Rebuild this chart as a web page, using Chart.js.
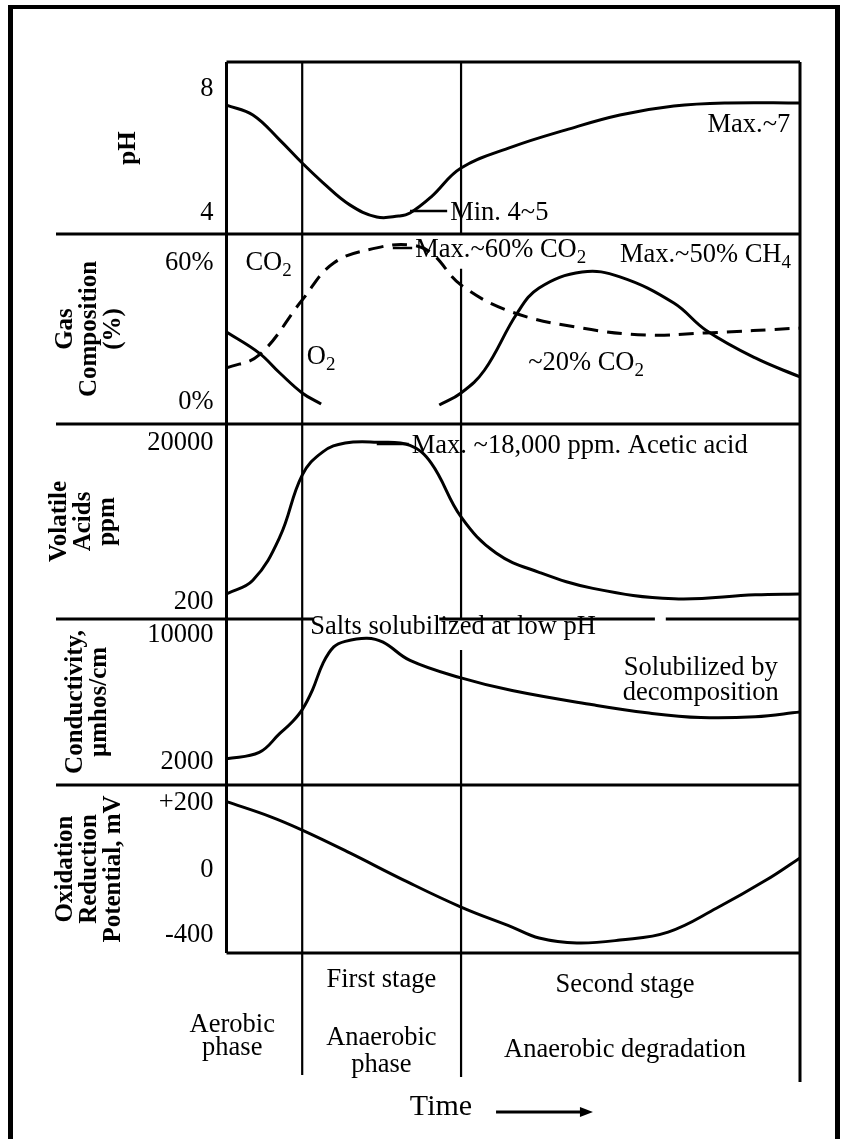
<!DOCTYPE html>
<html>
<head>
<meta charset="utf-8">
<script src="https://cdn.jsdelivr.net/npm/chart.js"></script>
<style>
  html, body { margin: 0; padding: 0; background: #fff; }
  canvas { display: block; }
</style>
</head>
<body>
<canvas id="chart" width="845" height="1139"></canvas>
<script>
// time runs 0..100 (no units on the original), phases change at these times
const phaseBounds = [13.2, 40.9];

const phTime = [0, 4.6, 9.3, 13.2, 16.8, 21.5, 26.2, 30.0, 32.0, 35.7, 40.9, 49.8, 59.2, 68.6, 78.0, 87.4, 100];
const phValue = [7.48, 7.16, 6.35, 5.61, 4.98, 4.26, 3.87, 3.9, 4.0, 4.52, 5.45, 6.13, 6.68, 7.16, 7.45, 7.55, 7.55];

const co2Time = [0, 5.7, 13.2, 18.7, 26.2, 32.0, 35.7, 40.9, 49.8, 62.0, 73.3, 83.6, 100];
const co2Value = [14.7, 20.3, 44, 60, 66.5, 67.8, 64.3, 50.5, 38.8, 31.9, 28.9, 29.8, 31.9];

const o2Time = [0, 5.7, 9.3, 13.2, 16.5];
const o2Value = [30.2, 21.1, 12.5, 3.9, -0.9];

const ch4Time = [37.1, 40.9, 45.0, 50.7, 54.5, 62.0, 68.6, 78.0, 83.6, 92.2, 100];
const ch4Value = [-1.3, 3.9, 13.8, 38.4, 49.2, 56.1, 54.0, 42.7, 31.0, 19.0, 10.8];

const vaTime = [0, 4.6, 9.3, 13.2, 16.8, 20.7, 26.2, 32.0, 35.7, 40.9, 47.0, 54.5, 63.9, 78.0, 92.2, 100];
const vaValue = [1200, 2900, 8300, 16000, 18900, 20000, 20100, 19700, 17500, 10800, 6300, 3900, 1900, 600, 1100, 1200];

const condTime = [0, 5.7, 9.3, 11.4, 13.2, 15.0, 16.8, 18.7, 20.7, 24.5, 27.3, 32.0, 40.9, 49.8, 63.9, 73.3, 82.7, 92.2, 100];
const condValue = [2200, 2600, 3800, 4500, 5300, 6550, 8200, 9250, 9600, 9800, 9550, 8400, 7300, 6500, 5600, 5100, 4800, 4850, 5150];

const orpTime = [0, 7.5, 13.2, 21.5, 30.9, 40.9, 49.8, 54.5, 61.1, 68.6, 77.0, 85.5, 94.1, 100];
const orpValue = [204, 160, 119, 51, -62, -228, -351, -418, -449, -431, -382, -234, -62, 36];

// tick labels of each panel
const phTicks = [8, 4];
const gasTicks = [60, 0];
const vaTicks = [20000, 200];
const condTicks = [10000, 2000];
const orpTicks = [200, 0, -400];

const stageNames = ['', 'First stage', 'Second stage'];
const phaseNames = [['Aerobic', 'phase'], ['Anaerobic', 'phase'], ['Anaerobic degradation']];

const notes = [
  {axis: 'yPH', x: 98.3, y: 6.84, text: 'Max.~7', align: 'right'},
  {axis: 'yPH', x: 39.0, y: 4.0, text: 'Min. 4~5', lead: 32.0},
  {axis: 'yGas', x: 3.3, y: 60, text: 'CO_2'},
  {axis: 'yGas', x: 14.0, y: 19.4, text: 'O_2'},
  {axis: 'yGas', x: 32.9, y: 65.6, text: 'Max.~60% CO_2', lead: 29.0},
  {axis: 'yGas', x: 68.6, y: 63.4, text: 'Max.~50% CH_4'},
  {axis: 'yGas', x: 52.6, y: 16.8, text: '~20% CO_2'},
  {axis: 'yVA', x: 32.3, y: 19627, text: 'Max. ~18,000 ppm. Acetic acid', lead: 26.2},
  {axis: 'yCond', x: 14.6, y: 10504, text: 'Salts solubilized at low pH'},
  {axis: 'yCond', x: 82.7, y: 7921, text: 'Solubilized by', align: 'center'},
  {axis: 'yCond', x: 82.7, y: 6346, text: 'decomposition', align: 'center'}
];

// the ORP axis is not linear on the original: 0 sits in the middle of +200 / -400
const orpKnots = [[-400, 0.107], [0, 0.494], [200, 0.893]];
function orpDec(v) {
  const i = v < orpKnots[1][0] ? 0 : 1;
  const a = orpKnots[i], b = orpKnots[i + 1];
  return a[1] + (v - a[0]) * (b[1] - a[1]) / (b[0] - a[0]);
}
class OrpScale extends Chart.LinearScale {
  static id = 'orp';
  static defaults = {};
  getPixelForValue(v) { return this.getPixelForDecimal(orpDec(v)); }
  getValueForPixel(p) {
    const d = this.getDecimalForPixel(p);
    const i = d < orpKnots[1][1] ? 0 : 1;
    const a = orpKnots[i], b = orpKnots[i + 1];
    return a[0] + (d - a[1]) * (b[0] - a[0]) / (b[1] - a[1]);
  }
}
Chart.register(OrpScale);

const serif = 'Liberation Serif';
const textSize = 26.5;
const xy = (t, v) => t.map((x, i) => ({x: x, y: v[i]}));
const lineStyle = {borderColor: '#000', borderWidth: 3, pointRadius: 0, fill: false, tension: 0.4};

function panelAxis(o) {
  return {
    type: o.type || 'linear', position: 'left', stack: 'panels', stackWeight: o.h, weight: o.w,
    min: o.min, max: o.max, offset: false, bounds: 'data',
    grid: {display: false, drawTicks: false}, border: {display: false},
    ticks: {font: {family: serif, size: textSize}, color: '#000', padding: 13, autoSkip: false,
      callback: o.fmt || (v => String(v))},
    title: {display: true, text: o.title, color: '#000',
      font: {family: serif, size: 25, weight: 'bold', lineHeight: 0.97},
      padding: {top: o.pad, bottom: 0}},
    afterBuildTicks: s => { s.ticks = o.ticks.map(value => ({value: value})); },
    afterFit: s => { s.width = 206.5; }
  };
}

function seg(ctx, x1, y1, x2, y2, w) {
  ctx.lineWidth = w;
  ctx.beginPath();
  ctx.moveTo(x1, y1);
  ctx.lineTo(x2, y2);
  ctx.stroke();
}

function drawRich(ctx, text, x, y, align, size) {
  const segs = [];
  text.split(/(_\w)/).forEach(p => {
    if (!p) return;
    if (p[0] === '_' && p.length === 2) segs.push({s: p[1], sub: true});
    else segs.push({s: p, sub: false});
  });
  const main = size + 'px "' + serif + '"';
  const sub = Math.round(size * 0.72) + 'px "' + serif + '"';
  let w = 0;
  segs.forEach(s => { ctx.font = s.sub ? sub : main; s.w = ctx.measureText(s.s).width; w += s.w; });
  let cx = align === 'right' ? x - w : align === 'center' ? x - w / 2 : x;
  ctx.textAlign = 'left';
  ctx.textBaseline = 'middle';
  segs.forEach(s => {
    ctx.font = s.sub ? sub : main;
    ctx.fillText(s.s, cx, y + (s.sub ? size * 0.3 : 0));
    cx += s.w;
  });
}

// separators start left of the axis titles; a couple of breaks as in the scan
const sepLeft = 56;
const sepGaps = {yCond: [[15.1, 37.1], [74.7, 76.6]]};
const phaseExt = [122, 124];
const phaseGaps = [[], [['yGas', 72.5, 57.5], ['yCond', 11008, 9050]]];

const decor = {
  id: 'decor',
  beforeDatasetsDraw(chart) {
    const {ctx, chartArea: a, scales} = chart;
    const xs = scales.x;
    ctx.save();
    ctx.fillStyle = '#000';
    ctx.strokeStyle = '#000';
    // page frame
    ctx.fillRect(8, 5, 832, 4);
    ctx.fillRect(8, 5, 5, chart.height);
    ctx.fillRect(835, 5, 5, chart.height);
    // plot box
    seg(ctx, a.left, a.top, a.right, a.top, 3);
    seg(ctx, a.left, a.bottom, a.right, a.bottom, 3);
    seg(ctx, a.left, a.top, a.left, a.bottom, 3);
    seg(ctx, a.right, a.top, a.right, a.bottom + 129, 3);
    ['yGas', 'yVA', 'yCond', 'yORP'].forEach(id => {
      const y = scales[id].top;
      let from = sepLeft;
      (sepGaps[id] || []).forEach(g => {
        seg(ctx, from, y, xs.getPixelForValue(g[0]), y, 3);
        from = xs.getPixelForValue(g[1]);
      });
      seg(ctx, from, y, a.right, y, 3);
    });
    phaseBounds.forEach((t, i) => {
      const x = xs.getPixelForValue(t);
      let from = a.top;
      phaseGaps[i].forEach(g => {
        const s = scales[g[0]];
        seg(ctx, x, from, x, s.getPixelForValue(g[1]), 2.2);
        from = s.getPixelForValue(g[2]);
      });
      seg(ctx, x, from, x, a.bottom + phaseExt[i], 2.2);
    });
    ctx.restore();
  },
  afterDatasetsDraw(chart) {
    const {ctx, scales} = chart;
    const xs = scales.x;
    ctx.save();
    ctx.fillStyle = '#000';
    ctx.strokeStyle = '#000';
    notes.forEach(n => {
      const x = xs.getPixelForValue(n.x);
      const y = scales[n.axis].getPixelForValue(n.y);
      if (n.lead !== undefined) seg(ctx, xs.getPixelForValue(n.lead), y - 2, x - 3, y - 2, 2.5);
      drawRich(ctx, n.text, x, y, n.align || 'left', textSize);
    });
    ctx.restore();
  },
  afterDraw(chart) {
    const {ctx, chartArea: a, scales} = chart;
    const xs = scales.x;
    const centers = [1.0, 27.0, 69.5];
    const topY = [0, 27, 32];
    const lineY = [[72, 95], [85, 112], [97]];
    ctx.save();
    ctx.fillStyle = '#000';
    ctx.strokeStyle = '#000';
    centers.forEach((c, i) => {
      const x = xs.getPixelForValue(c);
      if (stageNames[i]) drawRich(ctx, stageNames[i], x, a.bottom + topY[i], 'center', textSize);
      phaseNames[i].forEach((t, j) => drawRich(ctx, t, x, a.bottom + lineY[i][j], 'center', textSize));
    });
    drawRich(ctx, 'Time', xs.getPixelForValue(37.4), a.bottom + 154, 'center', 30);
    const ay = a.bottom + 159;
    const ax1 = xs.getPixelForValue(47.0), ax2 = xs.getPixelForValue(63.9);
    seg(ctx, ax1, ay, ax2 - 8, ay, 3);
    ctx.beginPath();
    ctx.moveTo(ax2, ay);
    ctx.lineTo(ax2 - 13, ay - 5);
    ctx.lineTo(ax2 - 13, ay + 5);
    ctx.closePath();
    ctx.fill();
    ctx.restore();
  }
};

new Chart(document.getElementById('chart'), {
  type: 'line',
  data: {
    datasets: [
      Object.assign({label: 'pH', data: xy(phTime, phValue), yAxisID: 'yPH'}, lineStyle),
      Object.assign({label: 'CO2', data: xy(co2Time, co2Value), yAxisID: 'yGas', borderDash: [15, 9]}, lineStyle),
      Object.assign({label: 'O2', data: xy(o2Time, o2Value), yAxisID: 'yGas'}, lineStyle),
      Object.assign({label: 'CH4', data: xy(ch4Time, ch4Value), yAxisID: 'yGas'}, lineStyle),
      Object.assign({label: 'Volatile acids', data: xy(vaTime, vaValue), yAxisID: 'yVA'}, lineStyle),
      Object.assign({label: 'Conductivity', data: xy(condTime, condValue), yAxisID: 'yCond'}, lineStyle),
      Object.assign({label: 'ORP', data: xy(orpTime, orpValue), yAxisID: 'yORP'}, lineStyle)
    ]
  },
  options: {
    responsive: false,
    animation: false,
    devicePixelRatio: 1,
    layout: {padding: {left: 20, right: 45, top: 62, bottom: 186}},
    plugins: {legend: {display: false}, tooltip: {enabled: false}},
    scales: {
      x: {type: 'linear', min: 0, max: 100, display: false},
      yPH: panelAxis({h: 172, w: 5, min: 3.32, max: 8.87, ticks: phTicks, title: 'pH', pad: 96}),
      yGas: panelAxis({h: 190, w: 4, min: -9.5, max: 72.5, ticks: gasTicks, fmt: v => v + '%',
        title: ['Gas', 'Composition', '(%)'], pad: 33}),
      yVA: panelAxis({h: 195, w: 3, min: -1917, max: 22366, ticks: vaTicks,
        title: ['Volatile', 'Acids', 'ppm'], pad: 27}),
      yCond: panelAxis({h: 166, w: 2, min: 551, max: 11008, ticks: condTicks,
        title: ['Conductivity,', '\u00b5mhos/cm'], pad: 43}),
      yORP: panelAxis({type: 'orp', h: 168, w: 1, min: -510, max: 254, ticks: orpTicks,
        fmt: v => (v > 0 ? '+' + v : String(v)),
        title: ['Oxidation', 'Reduction', 'Potential, mV'], pad: 33})
    }
  },
  plugins: [decor]
});
</script>
</body>
</html>
